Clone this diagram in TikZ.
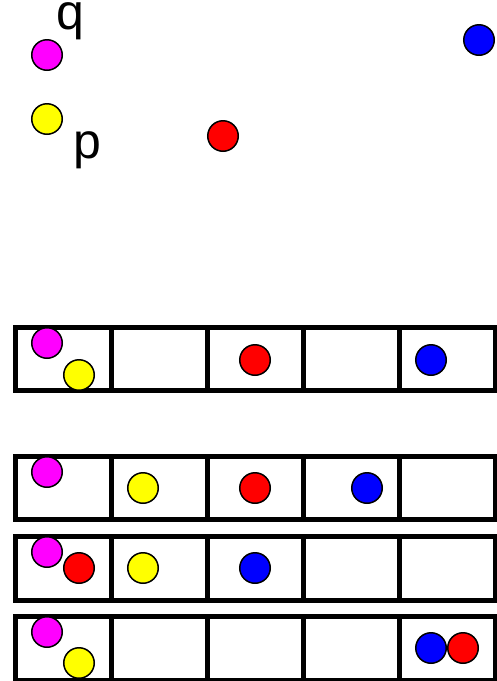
\documentclass[tikz,border=0pt]{standalone}
\usepackage{fontspec}
\setmainfont{Liberation Sans}
\usepackage{tikz}
\definecolor{ballmagenta}{RGB}{255,0,255}
\definecolor{ballyellow}{RGB}{255,255,0}
\definecolor{ballred}{RGB}{255,0,0}
\definecolor{ballblue}{RGB}{0,0,255}

\begin{document}
\begin{tikzpicture}[x=1pt,y=-1pt,
  ball/.style={circle,draw=black,line width=1.5pt,minimum size=30.5pt,inner sep=0pt},
  cell/.style={draw=black,line width=5pt},
  lbl/.style={inner sep=0pt,anchor=base west,font=\fontsize{50}{50}\selectfont}]
\useasboundingbox (0,0) rectangle (497,681);

% free points
\node[ball,fill=ballmagenta] (m0) at (47,55) {};
\node[ball,fill=ballyellow] (y0) at (47,119) {};
\node[ball,fill=ballred] (r0) at (223,136) {};
\node[ball,fill=ballblue] (b0) at (479,40) {};
\node[lbl] (lblq) at (56,29) {q};
\node[lbl] (lblp) at (73.5,158.5) {p};

% rows of cells
\foreach \top/\bot in {327.5/390.5, 456/519.5, 536/600, 616/680}
  \foreach \x in {15,111,207,303,399}
    \draw[cell] (\x,\top) rectangle (\x+96,\bot);

% row 1
\node[ball,fill=ballmagenta] (m1) at (47,343) {};
\node[ball,fill=ballyellow] (y1) at (79,375) {};
\node[ball,fill=ballred] (r1) at (255,360) {};
\node[ball,fill=ballblue] (b1) at (431,360) {};

% row 2
\node[ball,fill=ballmagenta] (m2) at (47,472) {};
\node[ball,fill=ballyellow] (y2) at (143,488) {};
\node[ball,fill=ballred] (r2) at (255,488) {};
\node[ball,fill=ballblue] (b2) at (367,488) {};

% row 3
\node[ball,fill=ballmagenta] (m3) at (47,552) {};
\node[ball,fill=ballred] (r3) at (79,568) {};
\node[ball,fill=ballyellow] (y3) at (143,568) {};
\node[ball,fill=ballblue] (b3) at (255,568) {};

% row 4
\node[ball,fill=ballmagenta] (m4) at (47,632) {};
\node[ball,fill=ballyellow] (y4) at (79,663) {};
\node[ball,fill=ballblue] (b4) at (431,648) {};
\node[ball,fill=ballred] (r4) at (463,648) {};
\end{tikzpicture}
\end{document}
